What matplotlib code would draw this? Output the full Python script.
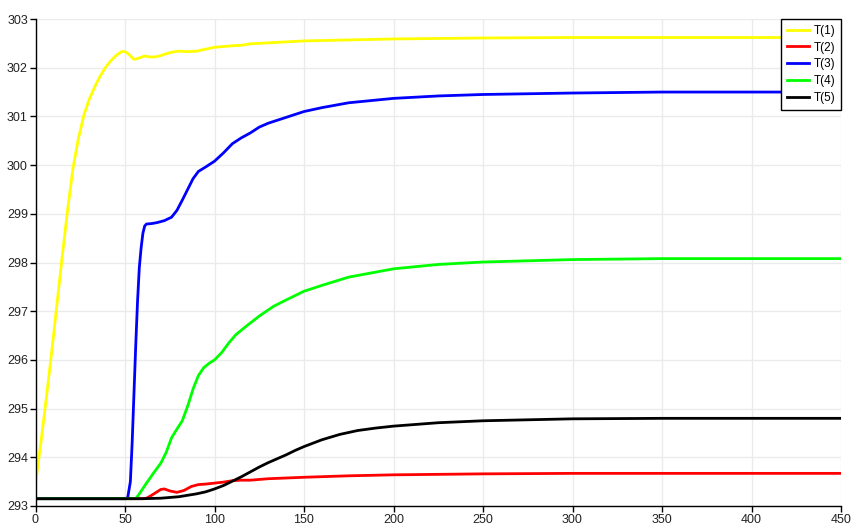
import matplotlib
matplotlib.use("Agg")
import matplotlib.pyplot as plt

# ---- data ----
t1 = [0, 3, 6, 9, 12, 15, 18, 21, 24, 27, 30, 33, 36, 39, 42, 45, 48, 50, 52, 55, 58, 61, 64, 67, 70,
      75, 80, 85, 90, 95, 100, 110, 115, 120, 130, 150, 175, 200, 250, 300, 450]
T1 = [293.45, 294.3, 295.2, 296.15, 297.15, 298.15, 299.1, 299.95, 300.55, 301.02, 301.35, 301.6, 301.82,
      302.0, 302.14, 302.25, 302.33, 302.33, 302.28, 302.17, 302.2, 302.24, 302.22, 302.22, 302.25,
      302.31, 302.34, 302.33, 302.34, 302.38, 302.42, 302.45, 302.46, 302.49, 302.51, 302.55, 302.57,
      302.59, 302.61, 302.62, 302.62]

t2 = [0, 60, 62, 64, 67, 70, 72, 75, 79, 83, 87, 91, 95, 100, 105, 110, 115, 120, 130, 150, 175, 200,
      250, 300, 450]
T2 = [293.15, 293.15, 293.16, 293.2, 293.27, 293.34, 293.35, 293.31, 293.28, 293.32, 293.4, 293.44,
      293.45, 293.47, 293.49, 293.52, 293.53, 293.53, 293.56, 293.59, 293.62, 293.64, 293.66, 293.67,
      293.67]

t3 = [0, 50, 51.5, 53, 54, 55, 56, 57, 58, 59, 60, 61, 62, 65, 68, 72, 76, 79, 82, 85, 88, 91, 95, 100,
      105, 110, 115, 120, 125, 130, 140, 150, 160, 175, 200, 225, 250, 300, 350, 450]
T3 = [293.15, 293.15, 293.17, 293.5, 294.3, 295.3, 296.3, 297.2, 297.9, 298.3, 298.6, 298.75, 298.79,
      298.8, 298.82, 298.86, 298.93, 299.07, 299.28, 299.5, 299.72, 299.87, 299.96, 300.08, 300.25,
      300.44, 300.56, 300.66, 300.78, 300.86, 300.98, 301.1, 301.18, 301.28, 301.37, 301.42, 301.45,
      301.48, 301.5, 301.5]

t4 = [0, 56, 58, 62, 66, 70, 73, 76, 79, 82, 85, 88, 91, 94, 97, 100, 104, 108, 112, 118, 125, 133,
      140, 150, 160, 175, 200, 225, 250, 300, 350, 450]
T4 = [293.15, 293.15, 293.25, 293.47, 293.68, 293.88, 294.1, 294.4, 294.58, 294.75, 295.05, 295.4,
      295.68, 295.84, 295.93, 296.0, 296.15, 296.35, 296.52, 296.7, 296.9, 297.1, 297.23, 297.41,
      297.53, 297.7, 297.87, 297.96, 298.01, 298.06, 298.08, 298.08]

t5 = [0, 60, 70, 80, 90, 95, 100, 105, 110, 115, 120, 125, 130, 135, 140, 145, 150, 160, 170, 180,
      190, 200, 225, 250, 300, 350, 450]
T5 = [293.15, 293.15, 293.16, 293.19, 293.25, 293.29, 293.35, 293.42, 293.51, 293.6, 293.7, 293.8,
      293.89, 293.97, 294.05, 294.14, 294.22, 294.36, 294.47, 294.55, 294.6, 294.64, 294.71, 294.75,
      294.79, 294.8, 294.8]

labels = ["T(1)", "T(2)", "T(3)", "T(4)", "T(5)"]
colors = ["#ffff00", "#ff0000", "#0000ff", "#00ff00", "#000000"]
xticks = [0, 50, 100, 150, 200, 250, 300, 350, 400, 450]
yticks = [293, 294, 295, 296, 297, 298, 299, 300, 301, 302, 303]

# ---- plot ----
plt.rcParams['font.family'] = ['Liberation Sans', 'DejaVu Sans']
fig = plt.figure(figsize=(8.61, 5.32), dpi=100)
ax = fig.add_axes([35.5 / 861, 1 - 506 / 532, (841 - 35.5) / 861, (506 - 19) / 532])

series = [(t1, T1), (t2, T2), (t3, T3), (t4, T4), (t5, T5)]
for (tt, vv), lab, col in zip(series, labels, colors):
    ax.plot(tt, vv, color=col, lw=2.0, label=lab, solid_joinstyle='round')

ax.set_xlim(0, 450)
ax.set_ylim(293, 303)
ax.set_xticks(xticks)
ax.set_yticks(yticks)
ax.grid(True, color="#ebebeb", lw=1.0)
ax.set_axisbelow(True)
for s in ["top", "right"]:
    ax.spines[s].set_visible(False)
for s in ["left", "bottom"]:
    ax.spines[s].set_color("black")
    ax.spines[s].set_linewidth(1.0)
ax.tick_params(direction="out", length=4, width=1, labelsize=9, pad=1.5, colors="black",
               labelcolor="#222222")

leg = ax.legend(loc="upper right", bbox_to_anchor=(1.0, 1.0), borderaxespad=0, fontsize=8.5,
                frameon=True, fancybox=False, handlelength=1.9, handletextpad=0.35,
                labelspacing=0.4, borderpad=0.5)
leg.get_frame().set_edgecolor("black")
leg.get_frame().set_linewidth(1.0)
leg.get_frame().set_alpha(1.0)

fig.savefig("out.png", dpi=100)
